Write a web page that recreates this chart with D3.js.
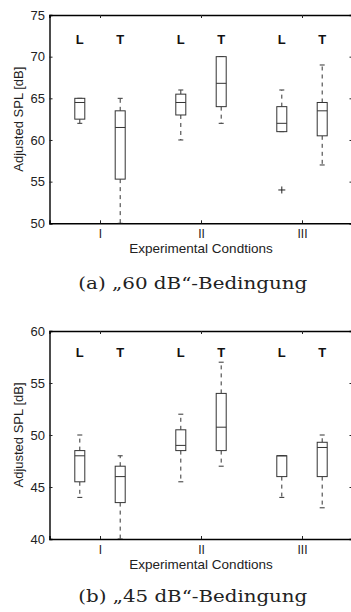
<!DOCTYPE html>
<html>
<head>
<meta charset="utf-8">
<script src="https://cdn.jsdelivr.net/npm/d3@7"></script>
<style>
html,body{margin:0;padding:0;background:#fff;overflow:hidden;}
svg{display:block;}
</style>
</head>
<body>
<svg id="chart" width="351" height="612"></svg>
<script>
// ---- data ----
const conditions = ["I", "II", "III"];
const groups = ["L", "T"];
// order: I-L, I-T, II-L, II-T, III-L, III-T
const aLow  = [62,   50,   60,   62,   61,   57];
const aQ1   = [62.5, 55.3, 63,   64,   61,   60.5];
const aMed  = [64.5, 61.5, 64.5, 66.8, 62,   63.5];
const aQ3   = [65,   63.5, 65.5, 70,   64,   64.5];
const aHigh = [65,   65,   66,   70,   66,   69];
const aOut  = [[],   [],   [],   [],   [54], []];

const bLow  = [44,   40,   45.5, 47,   44,   43];
const bQ1   = [45.5, 43.5, 48.5, 48.5, 46,   46];
const bMed  = [48,   46,   49,   50.75,48,   48.8];
const bQ3   = [48.5, 47,   50.5, 54,   48,   49.3];
const bHigh = [50,   48,   52,   57,   48,   50];
const bOut  = [[],   [],   [],   [],   [],   []];

const aTicks = [50, 55, 60, 65, 70, 75];
const bTicks = [40, 45, 50, 55, 60];

const yLabel = "Adjusted SPL [dB]";
const xLabel = "Experimental Condtions";
const captionA = "(a) \u201E60 dB\u201C-Bedingung";
const captionB = "(b) \u201E45 dB\u201C-Bedingung";

function buildRows(low, q1, med, q3, high, out) {
  const rows = [];
  conditions.forEach((c, ci) => {
    groups.forEach((g, gi) => {
      const k = ci * 2 + gi;
      rows.push({cond: ci + 1, group: g, gi, low: low[k], q1: q1[k], med: med[k], q3: q3[k], high: high[k], out: out[k]});
    });
  });
  return rows;
}

const svg = d3.select("#chart");
const sans = "'Liberation Sans', Arial, Helvetica, sans-serif";
const serif = "'DejaVu Serif', 'Liberation Serif', serif";

function panel(cfg) {
  const {top, bottom, domain, ticks, rows, labelOffset, captionY, caption, id} = cfg;
  const left = 49.5, right = 352.5;
  const x = d3.scaleLinear().domain([0.5, 3.5]).range([left, right]);
  const y = d3.scaleLinear().domain(domain).range([bottom, top]);
  const g = svg.append("g");

  g.append("clipPath").attr("id", id).append("rect")
    .attr("x", left).attr("y", top).attr("width", right - left).attr("height", bottom - top);

  // axes with inward ticks
  const yLeft = d3.axisLeft(y).tickValues(ticks).tickSize(-3).tickPadding(4.5).tickFormat(d3.format("d"));
  const gy = g.append("g").attr("transform", `translate(${left},0)`).call(yLeft);
  const yRight = d3.axisRight(y).tickValues(ticks).tickSize(-3).tickFormat("");
  const gyr = g.append("g").attr("transform", `translate(${right},0)`).call(yRight);
  const xBottom = d3.axisBottom(x).tickValues([1, 2, 3]).tickSize(-3).tickPadding(6.5).tickFormat((d, i) => conditions[i]);
  const gx = g.append("g").attr("transform", `translate(0,${bottom})`).call(xBottom);
  const xTop = d3.axisTop(x).tickValues([1, 2, 3]).tickSize(-3).tickFormat("");
  const gxt = g.append("g").attr("transform", `translate(0,${top})`).call(xTop);

  [gy, gyr, gx, gxt].forEach(a => {
    a.select(".domain").attr("stroke", "#000").attr("stroke-width", 1.4);
    a.selectAll(".tick line").attr("stroke", "#222").attr("stroke-width", 1);
    a.selectAll("text").attr("font-family", sans).attr("font-size", 13).attr("fill", "#222");
  });
  gx.selectAll("text").attr("font-size", 12);

  // group labels
  rows.forEach(r => {
    g.append("text")
      .attr("x", x(r.cond + (r.gi === 0 ? -0.2 : 0.2)))
      .attr("y", y(domain[1]) + labelOffset)
      .attr("text-anchor", "middle")
      .attr("font-family", sans).attr("font-weight", "bold").attr("font-size", 13)
      .attr("fill", "#111")
      .text(r.group);
  });

  const plot = g.append("g").attr("clip-path", `url(#${id})`);
  const bw = 10, cw = 5;
  rows.forEach(r => {
    const cx = x(r.cond + (r.gi === 0 ? -0.2 : 0.2));
    const bg = plot.append("g").attr("stroke", "#333").attr("stroke-width", 1).attr("fill", "none");
    if (r.high > r.q3) {
      bg.append("line").attr("x1", cx).attr("x2", cx).attr("y1", y(r.q3)).attr("y2", y(r.high)).attr("stroke-dasharray", "4,4");
    }
    if (r.low < r.q1) {
      bg.append("line").attr("x1", cx).attr("x2", cx).attr("y1", y(r.q1)).attr("y2", y(r.low)).attr("stroke-dasharray", "4,4");
    }
    bg.append("line").attr("x1", cx - cw / 2).attr("x2", cx + cw / 2).attr("y1", y(r.high)).attr("y2", y(r.high));
    bg.append("line").attr("x1", cx - cw / 2).attr("x2", cx + cw / 2).attr("y1", y(r.low)).attr("y2", y(r.low));
    bg.append("rect").attr("x", cx - bw / 2).attr("y", y(r.q3)).attr("width", bw).attr("height", y(r.q1) - y(r.q3)).attr("fill", "#fff");
    bg.append("line").attr("x1", cx - bw / 2).attr("x2", cx + bw / 2).attr("y1", y(r.med)).attr("y2", y(r.med));
    r.out.forEach(o => {
      const oy = y(o);
      bg.append("path").attr("d", `M${cx - 3.5},${oy}H${cx + 3.5}M${cx},${oy - 3.5}V${oy + 3.5}`).attr("stroke", "#222");
    });
  });

  g.append("text")
    .attr("transform", `translate(23,${(top + bottom) / 2}) rotate(-90)`)
    .attr("text-anchor", "middle")
    .attr("font-family", sans).attr("font-size", 13).attr("fill", "#222")
    .text(yLabel);
  g.append("text")
    .attr("x", 201).attr("y", bottom + 29.7)
    .attr("text-anchor", "middle")
    .attr("font-family", sans).attr("font-size", 13.5).attr("fill", "#222")
    .text(xLabel);
  g.append("text")
    .attr("x", 192.8).attr("y", captionY)
    .attr("text-anchor", "middle")
    .attr("font-family", serif).attr("font-size", 16).attr("fill", "#222")
    .attr("textLength", 229).attr("lengthAdjust", "spacingAndGlyphs")
    .text(caption);
}

panel({
  id: "clipA", top: 15, bottom: 223.3, domain: [50, 75], ticks: aTicks,
  rows: buildRows(aLow, aQ1, aMed, aQ3, aHigh, aOut),
  labelOffset: 29.3, captionY: 289.3, caption: captionA
});
panel({
  id: "clipB", top: 331, bottom: 539, domain: [40, 60], ticks: bTicks,
  rows: buildRows(bLow, bQ1, bMed, bQ3, bHigh, bOut),
  labelOffset: 25.7, captionY: 601.7, caption: captionB
});
</script>
</body>
</html>
